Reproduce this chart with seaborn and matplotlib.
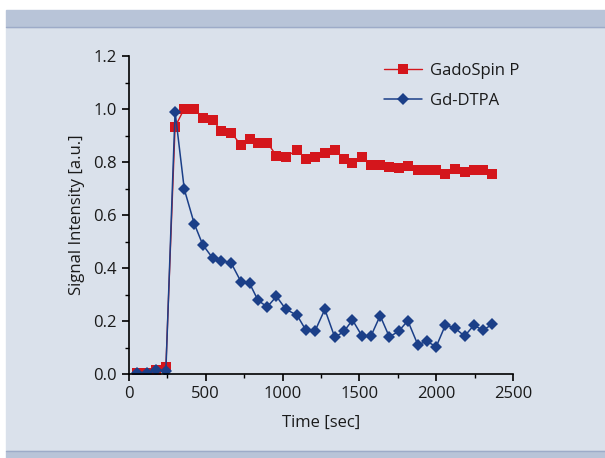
import numpy as np
import pandas as pd
import matplotlib
matplotlib.use("Agg")
import matplotlib.pyplot as plt
from matplotlib.patches import Rectangle
from matplotlib.lines import Line2D
from matplotlib.ticker import MultipleLocator
import seaborn as sns

# values
time_sec = [55, 115, 175, 240, 300, 360, 425, 480, 545, 600, 665, 730, 785, 840,
            900, 960, 1020, 1095, 1150, 1210, 1275, 1340, 1400, 1455, 1515, 1575,
            1635, 1695, 1755, 1815, 1880, 1940, 2000, 2060, 2120, 2185, 2245, 2305, 2365]
gadospin = [0.005, 0.005, 0.015, 0.025, 0.933, 1.001, 1.001, 0.967, 0.958, 0.918,
            0.911, 0.863, 0.887, 0.870, 0.873, 0.824, 0.820, 0.845, 0.813, 0.820,
            0.835, 0.845, 0.812, 0.795, 0.820, 0.790, 0.790, 0.781, 0.779, 0.786,
            0.770, 0.770, 0.770, 0.756, 0.775, 0.764, 0.770, 0.770, 0.756]
gd_dtpa = [0.005, 0.005, 0.015, 0.011, 0.990, 0.697, 0.567, 0.488, 0.437, 0.428,
           0.419, 0.347, 0.342, 0.278, 0.253, 0.293, 0.245, 0.221, 0.167, 0.161,
           0.244, 0.138, 0.161, 0.204, 0.145, 0.143, 0.220, 0.140, 0.161, 0.201,
           0.111, 0.123, 0.103, 0.185, 0.174, 0.143, 0.184, 0.165, 0.188]

df = pd.DataFrame({'time': time_sec, 'GadoSpin P': gadospin, 'Gd-DTPA': gd_dtpa})

sns.set_style("ticks")
plt.rcParams['font.family'] = ['Open Sans', 'DejaVu Sans']
plt.rcParams['text.color'] = '#1a1a1a'

red = '#d4161c'
blue = '#1b3f88'
bg = '#dae1eb'
band = '#b8c4d8'
edge = '#9dabc8'

fig = plt.figure(figsize=(6.05, 4.58), dpi=100)
fig.patch.set_facecolor('white')
W, H = 605, 458
# panel background and the two bands
fig.add_artist(Rectangle((6 / W, 1 - 451 / H), 1 - 6 / W, (451 - 27) / H,
                         transform=fig.transFigure, color=bg, zorder=-10))
fig.add_artist(Rectangle((6 / W, 1 - 27 / H), 1 - 6 / W, 17 / H,
                         transform=fig.transFigure, color=band, zorder=-10))
fig.add_artist(Rectangle((6 / W, 0), 1 - 6 / W, 1 - 451 / H,
                         transform=fig.transFigure, color=band, zorder=-10))
fig.add_artist(Line2D([6 / W, 1], [1 - 27 / H] * 2, transform=fig.transFigure,
                      color=edge, linewidth=1.0, zorder=-9))
fig.add_artist(Line2D([6 / W, 1], [1 - 451 / H] * 2, transform=fig.transFigure,
                      color=edge, linewidth=1.0, zorder=-9))

ax = fig.add_axes([129 / W, 1 - 374 / H, 384 / W, 318 / H])
ax.set_facecolor('none')

sns.lineplot(data=df, x='time', y='GadoSpin P', ax=ax, color=red, marker='s',
             markersize=6.5, markeredgewidth=0, linewidth=1.0, label='GadoSpin P')
sns.lineplot(data=df, x='time', y='Gd-DTPA', ax=ax, color=blue, marker='D',
             markersize=6.5, markeredgewidth=0, linewidth=1.1, label='Gd-DTPA')

ax.set_xlim(0, 2500)
ax.set_ylim(0, 1.2)
ax.xaxis.set_major_locator(MultipleLocator(500))
ax.xaxis.set_minor_locator(MultipleLocator(250))
ax.yaxis.set_major_locator(MultipleLocator(0.2))
ax.yaxis.set_minor_locator(MultipleLocator(0.1))
ax.yaxis.set_major_formatter(plt.FormatStrFormatter('%.1f'))
ax.tick_params(which='major', length=5, width=1.2, labelsize=12, colors='black',
               labelcolor='#1a1a1a', pad=4)
ax.tick_params(which='minor', length=3, width=1.0, colors='black')
for s in ['top', 'right']:
    ax.spines[s].set_visible(False)
for s in ['left', 'bottom']:
    ax.spines[s].set_linewidth(1.2)
    ax.spines[s].set_color('black')

ax.set_xlabel('Time [sec]', fontsize=12, labelpad=9, color='#1a1a1a')
ax.set_ylabel('Signal Intensity [a.u.]', fontsize=12, labelpad=6, color='#1a1a1a')

leg = ax.legend(loc='upper left', bbox_to_anchor=(0.625, 1.025), frameon=False,
                fontsize=12, handlelength=2.3, labelspacing=0.85, handletextpad=0.45)

plt.savefig('out.png', dpi=100)
